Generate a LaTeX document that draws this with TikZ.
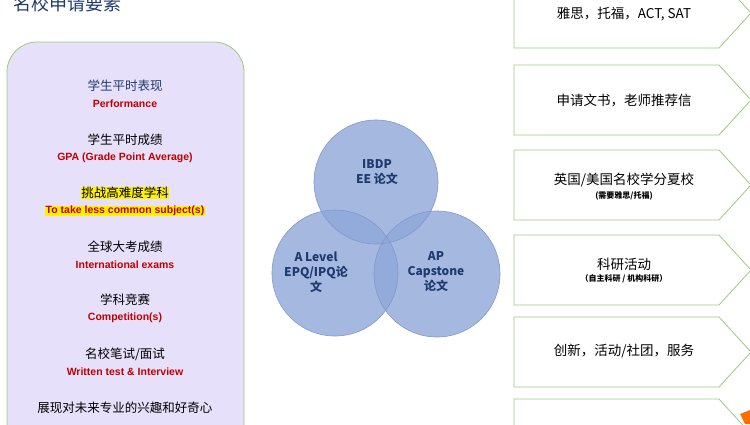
\documentclass[tikz,border=0pt]{standalone}
\usepackage{fontspec}
\setmainfont{Liberation Sans}
\newfontfamily\cjk{Noto Sans CJK SC}
\definecolor{pan}{HTML}{E6E0FA}
\definecolor{grn}{HTML}{9BCB7C}
\definecolor{circ}{HTML}{8FA8D8}
\definecolor{circd}{HTML}{7F99CC}
\definecolor{ttl}{HTML}{1F3A6E}
\definecolor{rd}{HTML}{C00000}
\begin{document}
\begin{tikzpicture}[x=1pt,y=-1pt,
  cn/.style={font=\cjk\fontsize{12.5}{14}\selectfont,inner sep=0.5pt},
  en/.style={font=\bfseries\fontsize{10.5}{12}\selectfont,text=rd,inner sep=0.5pt},
  pent/.style={draw=grn,line width=0.8pt,fill=white},
  bt/.style={font=\cjk\fontsize{13.5}{15}\selectfont},
  sm/.style={font=\cjk\bfseries\fontsize{8}{9}\selectfont},
  cl/.style={font=\cjk\bfseries\fontsize{12}{15}\selectfont,text=ttl,align=center}]
\useasboundingbox (0,0) rectangle (750,424);
\node[anchor=west,text=ttl,font=\cjk\fontsize{18}{20}\selectfont] (title) at (10,4) {名校申请要素};
\draw[draw=grn,fill=pan,line width=0.8pt,rounded corners=30pt] (7,440) -- (7,42) -- (244,42) -- (244,440);
\node[cn,text=ttl] (a1) at (125,86) {学生平时表现};
\node[en] (b1) at (125,104) {Performance};
\node[cn] (a2) at (125,140) {学生平时成绩};
\node[en] (b2) at (125,158) {GPA (Grade Point Average)};
\node[cn,fill=yellow] (a3) at (125,193) {挑战高难度学科};
\node[en,fill=yellow] (b3) at (125,211) {To take less common subject(s)};
\node[cn] (a4) at (125,247) {全球大考成绩};
\node[en] (b4) at (125,265) {International exams};
\node[cn] (a5) at (125,300) {学科竞赛};
\node[en] (b5) at (125,318) {Competition(s)};
\node[cn] (a6) at (125,354) {名校笔试/面试};
\node[en] (b6) at (125,372) {Written test \& Interview};
\node[cn] (a7) at (125,408) {展现对未来专业的兴趣和好奇心};
% circles
\begin{scope}[fill opacity=0.8]
\fill[circ] (376,182) circle (62);
\fill[circ] (335,273) circle (63);
\fill[circ] (437,274) circle (63);
\end{scope}
\draw[circd,line width=0.6pt] (376,182) circle (62) (335,273) circle (63) (437,274) circle (63);
\node[cl] (c1) at (377,172) {IBDP\\EE 论文};
\node[cl] (c2) at (316,272) {A Level\\EPQ/IPQ论\\文};
\node[cl] (c3) at (436,272) {AP\\Capstone\\论文};
% pentagons
\foreach \t/\n in {-22/p1,65/p2,150/p3,235/p4,317/p5,399/p6}{
  \draw[pent] (514,\t) -- (719,\t) -- (751,\t+35) -- (719,\t+70) -- (514,\t+70) -- cycle;
}
\node[bt] (t1) at (624,14) {雅思，托福，ACT, SAT};
\node[bt] (t2) at (624,100) {申请文书，老师推荐信};
\node[bt] (t3) at (624,180) {英国/美国名校学分夏校};
\node[sm] (s3) at (624,196) {(需要雅思/托福)};
\node[bt] (t4) at (624,264) {科研活动};
\node[sm] (s4) at (624,279) {（自主科研 / 机构科研）};
\node[bt] (t5) at (624,351) {创新，活动/社团，服务};
\fill[orange!85!red] (740,414) -- (750,410) -- (750,424) -- (745,424) -- cycle;
\end{tikzpicture}
\end{document}
